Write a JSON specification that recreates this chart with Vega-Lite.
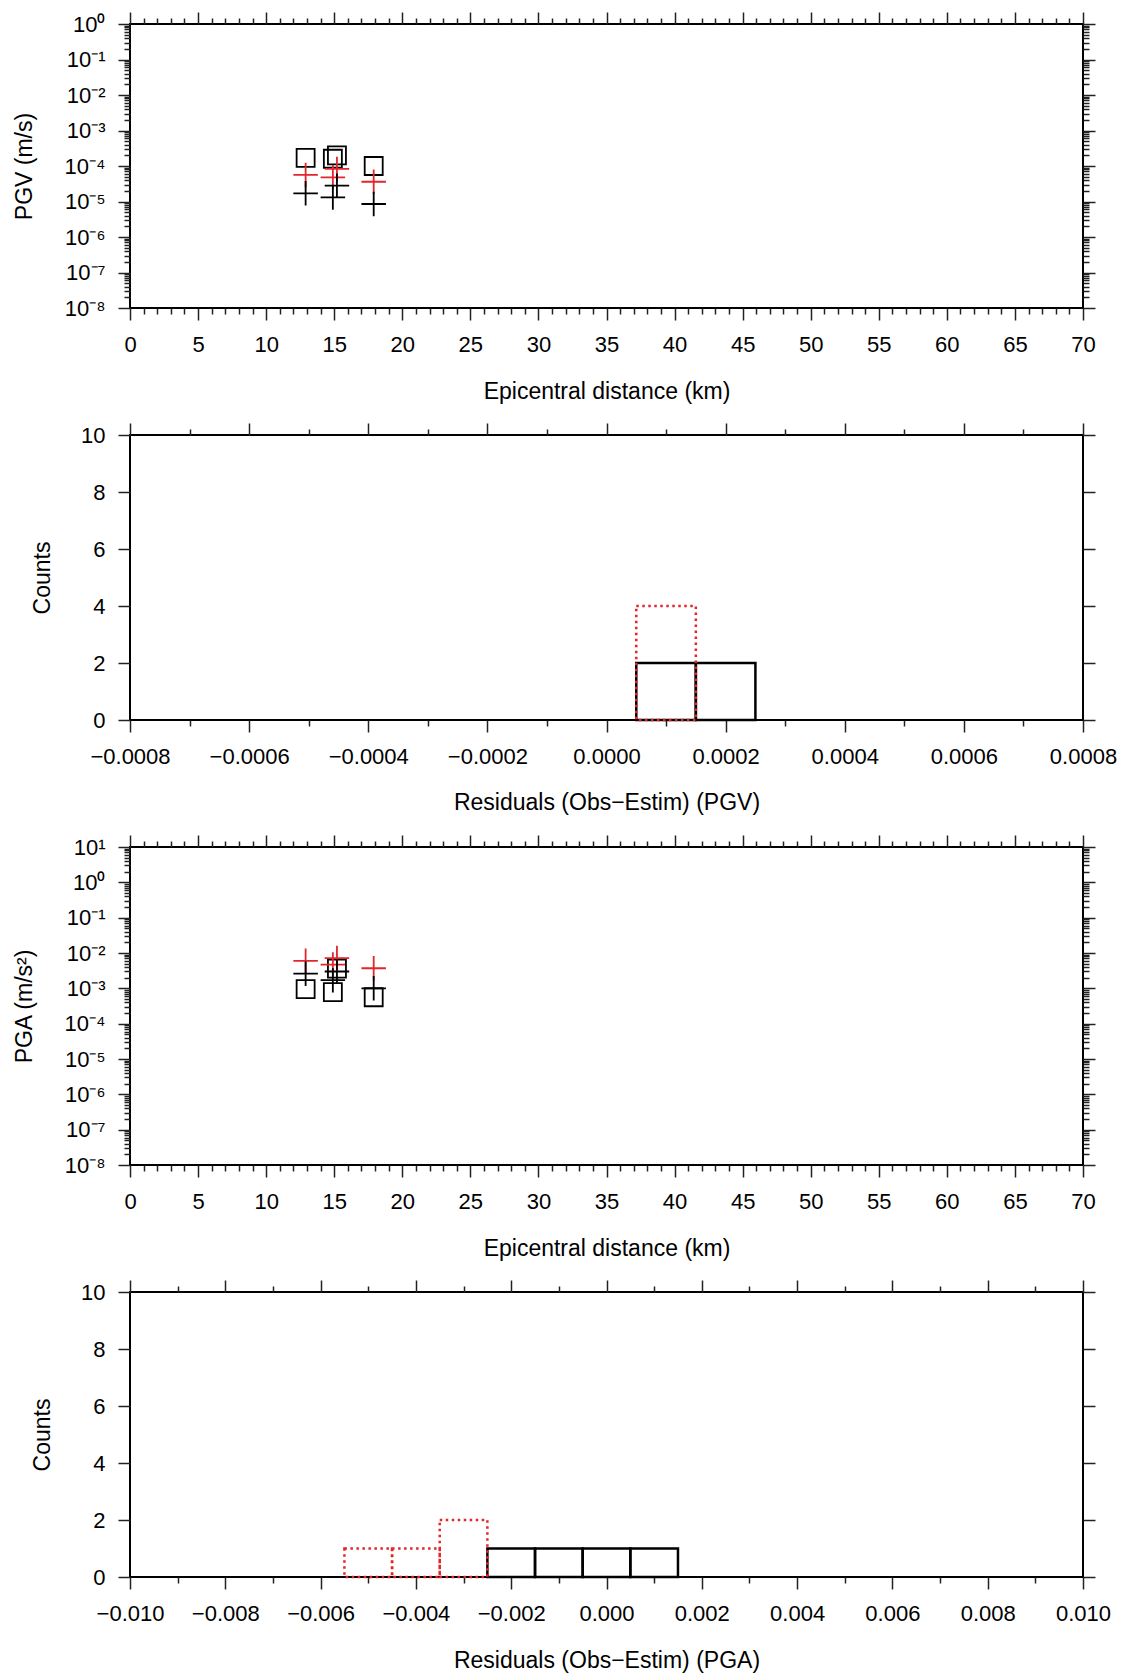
{
  "$schema": "https://vega.github.io/schema/vega-lite/v6.json",
  "background": "white",
  "padding": {"left": 12, "top": 10, "right": 20, "bottom": 5},
  "spacing": 127,
  "bounds": "flush",
  "datasets": {
    "pgv": [
      {"dist": 12.9, "obs": 1.7e-4, "estRed": 5.6e-5, "estBlack": 1.7e-5},
      {"dist": 14.9, "obs": 1.6e-4, "estRed": 4.8e-5, "estBlack": 1.3e-5},
      {"dist": 15.2, "obs": 2.0e-4, "estRed": 8.3e-5, "estBlack": 2.8e-5},
      {"dist": 17.9, "obs": 1.0e-4, "estRed": 3.6e-5, "estBlack": 8.5e-6}
    ],
    "pga": [
      {"dist": 12.9, "obs": 9.5e-4, "estRed": 6.0e-3, "estBlack": 2.6e-3},
      {"dist": 14.9, "obs": 7.8e-4, "estRed": 4.7e-3, "estBlack": 1.7e-3},
      {"dist": 15.2, "obs": 3.6e-3, "estRed": 7.2e-3, "estBlack": 3.0e-3},
      {"dist": 17.9, "obs": 5.6e-4, "estRed": 3.7e-3, "estBlack": 1.0e-3}
    ],
    "pgvh": [
      {"s": "black", "lo": 0.00005, "hi": 0.00015, "n": 2},
      {"s": "black", "lo": 0.00015, "hi": 0.00025, "n": 2},
      {"s": "red", "lo": 0.00005, "hi": 0.00015, "n": 4}
    ],
    "pgah": [
      {"s": "black", "lo": -0.0025, "hi": -0.0015, "n": 1},
      {"s": "black", "lo": -0.0015, "hi": -0.0005, "n": 1},
      {"s": "black", "lo": -0.0005, "hi": 0.0005, "n": 1},
      {"s": "black", "lo": 0.0005, "hi": 0.0015, "n": 1},
      {"s": "red", "lo": -0.0055, "hi": -0.0045, "n": 1},
      {"s": "red", "lo": -0.0045, "hi": -0.0035, "n": 1},
      {"s": "red", "lo": -0.0035, "hi": -0.0025, "n": 2}
    ]
  },
  "vconcat": [
    {
      "width": 953, "height": 284,
      "data": {"name": "pgv"},
      "layer": [
        {
          "mark": {"type": "point", "shape": "square", "size": 324, "filled": false, "stroke": "#000", "strokeWidth": 1.8, "opacity": 1},
          "encoding": {
            "x": {"field": "dist", "type": "quantitative", "scale": {"domain": [0, 70], "nice": false, "zero": false},
              "axis": {"orient": "bottom", "title": "Epicentral distance (km)", "titlePadding": 25,
                "values": [0,1,2,3,4,5,6,7,8,9,10,11,12,13,14,15,16,17,18,19,20,21,22,23,24,25,26,27,28,29,30,31,32,33,34,35,36,37,38,39,40,41,42,43,44,45,46,47,48,49,50,51,52,53,54,55,56,57,58,59,60,61,62,63,64,65,66,67,68,69,70],
                "labelExpr": "datum.value % 5 == 0 ? datum.label : ''",
                "tickSize": {"condition": {"test": "datum.value % 5 != 0", "value": 6}, "value": 12}}},
            "y": {"field": "obs", "type": "quantitative", "scale": {"type": "log", "domain": [1e-8, 1], "nice": false},
              "axis": {"orient": "left", "title": "PGV (m/s)", "titlePadding": 28, "labelPadding": 13,
                "values": [1e-8,2e-8,3e-8,4e-8,5e-8,6e-8,7e-8,8e-8,9e-8,1e-7,2e-7,3e-7,4e-7,5e-7,6e-7,7e-7,8e-7,9e-7,1e-6,2e-6,3e-6,4e-6,5e-6,6e-6,7e-6,8e-6,9e-6,1e-5,2e-5,3e-5,4e-5,5e-5,6e-5,7e-5,8e-5,9e-5,1e-4,2e-4,3e-4,4e-4,5e-4,6e-4,7e-4,8e-4,9e-4,1e-3,2e-3,3e-3,4e-3,5e-3,6e-3,7e-3,8e-3,9e-3,1e-2,2e-2,3e-2,4e-2,5e-2,6e-2,7e-2,8e-2,9e-2,0.1,0.2,0.3,0.4,0.5,0.6,0.7,0.8,0.9,1],
                "labelExpr": "abs(log(datum.value)/LN10 - round(log(datum.value)/LN10)) < 0.01 ? '10' + ['⁻⁸','⁻⁷','⁻⁶','⁻⁵','⁻⁴','⁻³','⁻²','⁻¹','⁰','¹'][round(log(datum.value)/LN10)+8] : ''",
                "tickSize": {"condition": {"test": "abs(log(datum.value)/LN10 - round(log(datum.value)/LN10)) >= 0.01", "value": 6}, "value": 12}}}
          }
        },
        {
          "mark": {"type": "point", "shape": "M-1,0H1M0,-1V1", "size": 600, "filled": false, "stroke": "#e3262b", "strokeWidth": 1.8, "opacity": 1},
          "encoding": {
            "x": {"field": "dist", "type": "quantitative", "scale": {"domain": [0, 70], "nice": false, "zero": false},
              "axis": {"orient": "top", "title": null, "labels": false,
                "values": [0,1,2,3,4,5,6,7,8,9,10,11,12,13,14,15,16,17,18,19,20,21,22,23,24,25,26,27,28,29,30,31,32,33,34,35,36,37,38,39,40,41,42,43,44,45,46,47,48,49,50,51,52,53,54,55,56,57,58,59,60,61,62,63,64,65,66,67,68,69,70],
                "tickSize": {"condition": {"test": "datum.value % 5 != 0", "value": 6}, "value": 12}}},
            "y": {"field": "estRed", "type": "quantitative", "scale": {"type": "log", "domain": [1e-8, 1], "nice": false},
              "axis": {"orient": "right", "title": null, "labels": false,
                "values": [1e-8,2e-8,3e-8,4e-8,5e-8,6e-8,7e-8,8e-8,9e-8,1e-7,2e-7,3e-7,4e-7,5e-7,6e-7,7e-7,8e-7,9e-7,1e-6,2e-6,3e-6,4e-6,5e-6,6e-6,7e-6,8e-6,9e-6,1e-5,2e-5,3e-5,4e-5,5e-5,6e-5,7e-5,8e-5,9e-5,1e-4,2e-4,3e-4,4e-4,5e-4,6e-4,7e-4,8e-4,9e-4,1e-3,2e-3,3e-3,4e-3,5e-3,6e-3,7e-3,8e-3,9e-3,1e-2,2e-2,3e-2,4e-2,5e-2,6e-2,7e-2,8e-2,9e-2,0.1,0.2,0.3,0.4,0.5,0.6,0.7,0.8,0.9,1],
                "tickSize": {"condition": {"test": "abs(log(datum.value)/LN10 - round(log(datum.value)/LN10)) >= 0.01", "value": 6}, "value": 12}}}
          }
        },
        {
          "mark": {"type": "point", "shape": "M-1,0H1M0,-1V1", "size": 600, "filled": false, "stroke": "#000", "strokeWidth": 1.8, "opacity": 1},
          "encoding": {
            "x": {"field": "dist", "type": "quantitative", "scale": {"domain": [0, 70], "nice": false, "zero": false}, "axis": null},
            "y": {"field": "estBlack", "type": "quantitative", "scale": {"type": "log", "domain": [1e-8, 1], "nice": false}, "axis": null}
          }
        }
      ],
      "resolve": {"axis": {"x": "independent", "y": "independent"}}
    },
    {
      "width": 953, "height": 285,
      "data": {"name": "pgvh"},
      "layer": [
        {
          "transform": [{"filter": "datum.s == 'black'"}],
          "mark": {"type": "rect", "fill": "transparent", "stroke": "#000", "strokeWidth": 2.5},
          "encoding": {
            "x": {"field": "lo", "type": "quantitative", "scale": {"domain": [-0.0008, 0.0008], "nice": false, "zero": false},
              "axis": {"orient": "bottom", "title": "Residuals (Obs−Estim) (PGV)", "titlePadding": 24,
                "values": [-0.0008,-0.0007,-0.0006,-0.0005,-0.0004,-0.0003,-0.0002,-0.0001,0,0.0001,0.0002,0.0003,0.0004,0.0005,0.0006,0.0007,0.0008],
                "labelExpr": "abs(datum.value/0.0002 - round(datum.value/0.0002)) < 0.01 ? format(datum.value, '.4f') : ''",
                "tickSize": {"condition": {"test": "abs(datum.value/0.0002 - round(datum.value/0.0002)) >= 0.01", "value": 6}, "value": 12}}},
            "x2": {"field": "hi"},
            "y": {"field": "n", "type": "quantitative", "scale": {"domain": [0, 10], "nice": false},
              "axis": {"orient": "left", "title": "Counts", "titlePadding": 26, "labelPadding": 13, "values": [0, 2, 4, 6, 8, 10], "tickSize": 12}},
            "y2": {"datum": 0}
          }
        },
        {
          "transform": [{"filter": "datum.s == 'red'"}],
          "mark": {"type": "rect", "fill": "transparent", "stroke": "#e3262b", "strokeWidth": 2.5, "strokeDash": [2.5, 3.5]},
          "encoding": {
            "x": {"field": "lo", "type": "quantitative", "scale": {"domain": [-0.0008, 0.0008], "nice": false, "zero": false},
              "axis": {"orient": "top", "title": null, "labels": false,
                "values": [-0.0008,-0.0007,-0.0006,-0.0005,-0.0004,-0.0003,-0.0002,-0.0001,0,0.0001,0.0002,0.0003,0.0004,0.0005,0.0006,0.0007,0.0008],
                "tickSize": {"condition": {"test": "abs(datum.value/0.0002 - round(datum.value/0.0002)) >= 0.01", "value": 6}, "value": 12}}},
            "x2": {"field": "hi"},
            "y": {"field": "n", "type": "quantitative", "scale": {"domain": [0, 10], "nice": false},
              "axis": {"orient": "right", "title": null, "labels": false, "values": [0, 2, 4, 6, 8, 10], "tickSize": 12}},
            "y2": {"datum": 0}
          }
        }
      ],
      "resolve": {"axis": {"x": "independent", "y": "independent"}}
    },
    {
      "width": 953, "height": 318,
      "data": {"name": "pga"},
      "layer": [
        {
          "mark": {"type": "point", "shape": "square", "size": 324, "filled": false, "stroke": "#000", "strokeWidth": 1.8, "opacity": 1},
          "encoding": {
            "x": {"field": "dist", "type": "quantitative", "scale": {"domain": [0, 70], "nice": false, "zero": false},
              "axis": {"orient": "bottom", "title": "Epicentral distance (km)", "titlePadding": 25,
                "values": [0,1,2,3,4,5,6,7,8,9,10,11,12,13,14,15,16,17,18,19,20,21,22,23,24,25,26,27,28,29,30,31,32,33,34,35,36,37,38,39,40,41,42,43,44,45,46,47,48,49,50,51,52,53,54,55,56,57,58,59,60,61,62,63,64,65,66,67,68,69,70],
                "labelExpr": "datum.value % 5 == 0 ? datum.label : ''",
                "tickSize": {"condition": {"test": "datum.value % 5 != 0", "value": 6}, "value": 12}}},
            "y": {"field": "obs", "type": "quantitative", "scale": {"type": "log", "domain": [1e-8, 10], "nice": false},
              "axis": {"orient": "left", "title": "PGA (m/s²)", "titlePadding": 28, "labelPadding": 13,
                "values": [1e-8,2e-8,3e-8,4e-8,5e-8,6e-8,7e-8,8e-8,9e-8,1e-7,2e-7,3e-7,4e-7,5e-7,6e-7,7e-7,8e-7,9e-7,1e-6,2e-6,3e-6,4e-6,5e-6,6e-6,7e-6,8e-6,9e-6,1e-5,2e-5,3e-5,4e-5,5e-5,6e-5,7e-5,8e-5,9e-5,1e-4,2e-4,3e-4,4e-4,5e-4,6e-4,7e-4,8e-4,9e-4,1e-3,2e-3,3e-3,4e-3,5e-3,6e-3,7e-3,8e-3,9e-3,1e-2,2e-2,3e-2,4e-2,5e-2,6e-2,7e-2,8e-2,9e-2,0.1,0.2,0.3,0.4,0.5,0.6,0.7,0.8,0.9,1,2,3,4,5,6,7,8,9,10],
                "labelExpr": "abs(log(datum.value)/LN10 - round(log(datum.value)/LN10)) < 0.01 ? '10' + ['⁻⁸','⁻⁷','⁻⁶','⁻⁵','⁻⁴','⁻³','⁻²','⁻¹','⁰','¹'][round(log(datum.value)/LN10)+8] : ''",
                "tickSize": {"condition": {"test": "abs(log(datum.value)/LN10 - round(log(datum.value)/LN10)) >= 0.01", "value": 6}, "value": 12}}}
          }
        },
        {
          "mark": {"type": "point", "shape": "M-1,0H1M0,-1V1", "size": 600, "filled": false, "stroke": "#e3262b", "strokeWidth": 1.8, "opacity": 1},
          "encoding": {
            "x": {"field": "dist", "type": "quantitative", "scale": {"domain": [0, 70], "nice": false, "zero": false},
              "axis": {"orient": "top", "title": null, "labels": false,
                "values": [0,1,2,3,4,5,6,7,8,9,10,11,12,13,14,15,16,17,18,19,20,21,22,23,24,25,26,27,28,29,30,31,32,33,34,35,36,37,38,39,40,41,42,43,44,45,46,47,48,49,50,51,52,53,54,55,56,57,58,59,60,61,62,63,64,65,66,67,68,69,70],
                "tickSize": {"condition": {"test": "datum.value % 5 != 0", "value": 6}, "value": 12}}},
            "y": {"field": "estRed", "type": "quantitative", "scale": {"type": "log", "domain": [1e-8, 10], "nice": false},
              "axis": {"orient": "right", "title": null, "labels": false,
                "values": [1e-8,2e-8,3e-8,4e-8,5e-8,6e-8,7e-8,8e-8,9e-8,1e-7,2e-7,3e-7,4e-7,5e-7,6e-7,7e-7,8e-7,9e-7,1e-6,2e-6,3e-6,4e-6,5e-6,6e-6,7e-6,8e-6,9e-6,1e-5,2e-5,3e-5,4e-5,5e-5,6e-5,7e-5,8e-5,9e-5,1e-4,2e-4,3e-4,4e-4,5e-4,6e-4,7e-4,8e-4,9e-4,1e-3,2e-3,3e-3,4e-3,5e-3,6e-3,7e-3,8e-3,9e-3,1e-2,2e-2,3e-2,4e-2,5e-2,6e-2,7e-2,8e-2,9e-2,0.1,0.2,0.3,0.4,0.5,0.6,0.7,0.8,0.9,1,2,3,4,5,6,7,8,9,10],
                "tickSize": {"condition": {"test": "abs(log(datum.value)/LN10 - round(log(datum.value)/LN10)) >= 0.01", "value": 6}, "value": 12}}}
          }
        },
        {
          "mark": {"type": "point", "shape": "M-1,0H1M0,-1V1", "size": 600, "filled": false, "stroke": "#000", "strokeWidth": 1.8, "opacity": 1},
          "encoding": {
            "x": {"field": "dist", "type": "quantitative", "scale": {"domain": [0, 70], "nice": false, "zero": false}, "axis": null},
            "y": {"field": "estBlack", "type": "quantitative", "scale": {"type": "log", "domain": [1e-8, 10], "nice": false}, "axis": null}
          }
        }
      ],
      "resolve": {"axis": {"x": "independent", "y": "independent"}}
    },
    {
      "width": 953, "height": 285,
      "data": {"name": "pgah"},
      "layer": [
        {
          "transform": [{"filter": "datum.s == 'black'"}],
          "mark": {"type": "rect", "fill": "transparent", "stroke": "#000", "strokeWidth": 2.5},
          "encoding": {
            "x": {"field": "lo", "type": "quantitative", "scale": {"domain": [-0.01, 0.01], "nice": false, "zero": false},
              "axis": {"orient": "bottom", "title": "Residuals (Obs−Estim) (PGA)", "titlePadding": 25,
                "values": [-0.010,-0.009,-0.008,-0.007,-0.006,-0.005,-0.004,-0.003,-0.002,-0.001,0,0.001,0.002,0.003,0.004,0.005,0.006,0.007,0.008,0.009,0.010],
                "labelExpr": "abs(datum.value/0.002 - round(datum.value/0.002)) < 0.01 ? format(datum.value, '.3f') : ''",
                "tickSize": {"condition": {"test": "abs(datum.value/0.002 - round(datum.value/0.002)) >= 0.01", "value": 6}, "value": 12}}},
            "x2": {"field": "hi"},
            "y": {"field": "n", "type": "quantitative", "scale": {"domain": [0, 10], "nice": false},
              "axis": {"orient": "left", "title": "Counts", "titlePadding": 26, "labelPadding": 13, "values": [0, 2, 4, 6, 8, 10], "tickSize": 12}},
            "y2": {"datum": 0}
          }
        },
        {
          "transform": [{"filter": "datum.s == 'red'"}],
          "mark": {"type": "rect", "fill": "transparent", "stroke": "#e3262b", "strokeWidth": 2.5, "strokeDash": [2.5, 3.5]},
          "encoding": {
            "x": {"field": "lo", "type": "quantitative", "scale": {"domain": [-0.01, 0.01], "nice": false, "zero": false},
              "axis": {"orient": "top", "title": null, "labels": false,
                "values": [-0.010,-0.009,-0.008,-0.007,-0.006,-0.005,-0.004,-0.003,-0.002,-0.001,0,0.001,0.002,0.003,0.004,0.005,0.006,0.007,0.008,0.009,0.010],
                "tickSize": {"condition": {"test": "abs(datum.value/0.002 - round(datum.value/0.002)) >= 0.01", "value": 6}, "value": 12}}},
            "x2": {"field": "hi"},
            "y": {"field": "n", "type": "quantitative", "scale": {"domain": [0, 10], "nice": false},
              "axis": {"orient": "right", "title": null, "labels": false, "values": [0, 2, 4, 6, 8, 10], "tickSize": 12}},
            "y2": {"datum": 0}
          }
        }
      ],
      "resolve": {"axis": {"x": "independent", "y": "independent"}}
    }
  ],
  "config": {
    "view": {"stroke": "#000", "strokeWidth": 2},
    "axis": {
      "labelFont": "Liberation Sans", "titleFont": "Liberation Sans",
      "labelFontSize": 22, "titleFontSize": 23, "titleFontWeight": "normal",
      "labelColor": "#000", "titleColor": "#000",
      "tickColor": "#222", "tickWidth": 1.5,
      "grid": false, "domain": false,
      "labelFlush": false, "labelOverlap": false, "labelBound": false,
      "labelPadding": 14
    }
  }
}
